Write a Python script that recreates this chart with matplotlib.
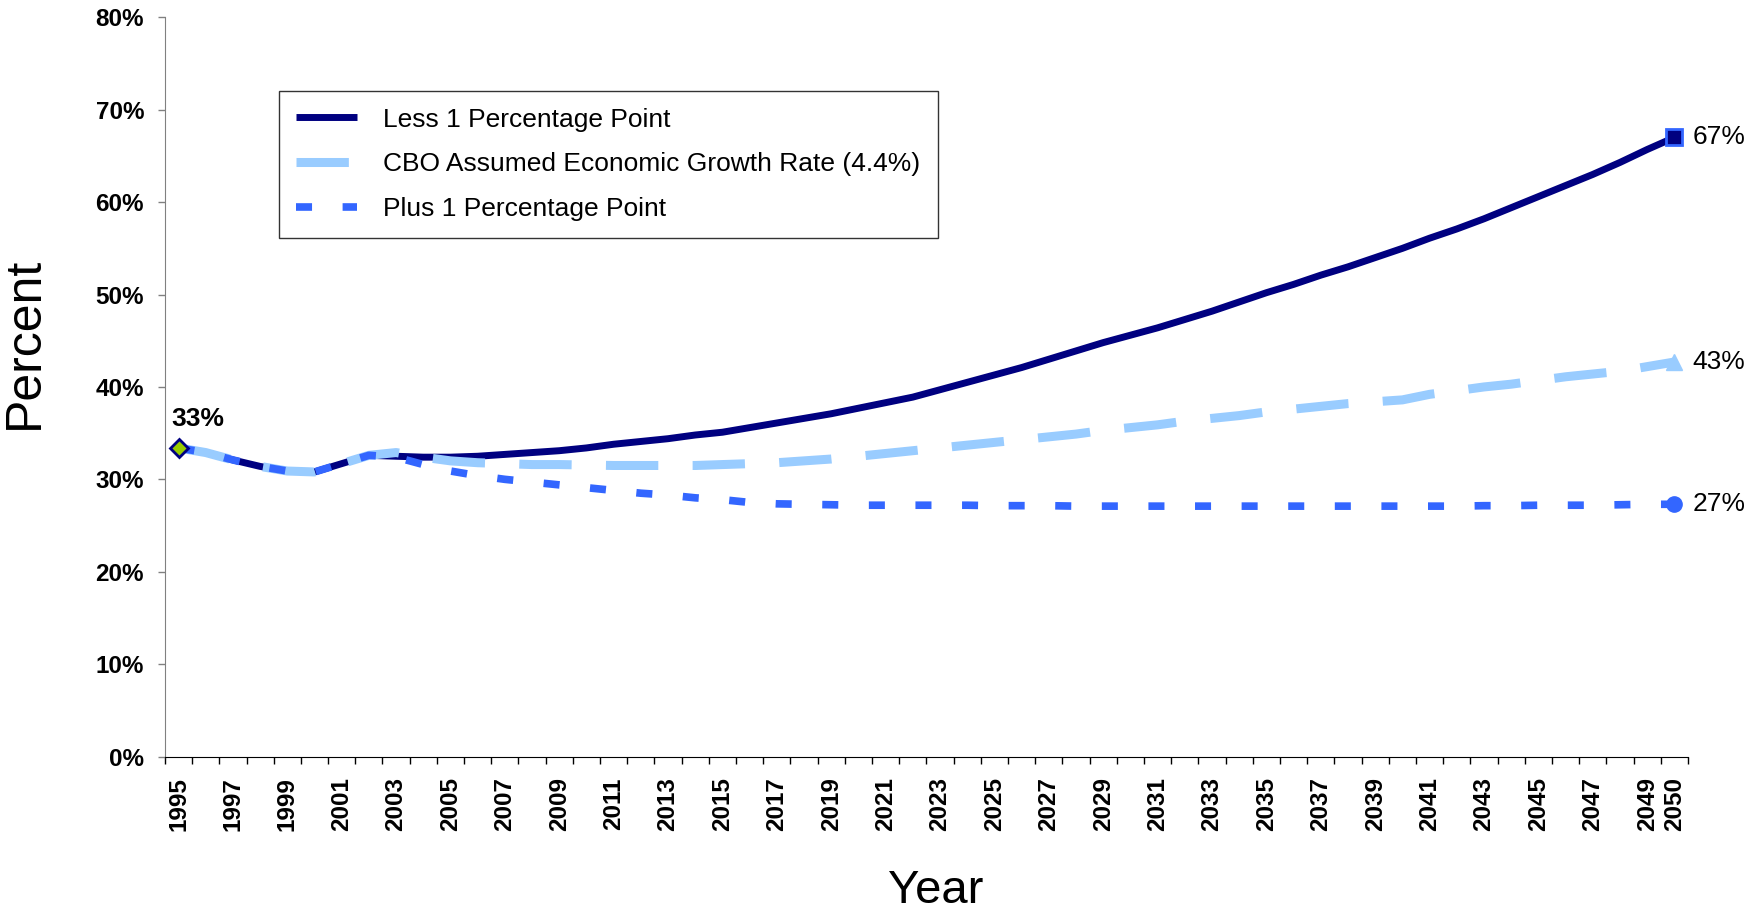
import numpy as np
import matplotlib
matplotlib.use("Agg")
import matplotlib.pyplot as plt
from matplotlib.ticker import FixedLocator, FuncFormatter

plt.rcParams['font.family'] = ['Liberation Sans', 'DejaVu Sans']

# Data
years = list(range(1995, 2051))

less_one = [33.4, 32.9, 32.1, 31.4, 30.9, 30.8, 31.7, 32.6, 32.5, 32.4,
            32.4, 32.5, 32.7, 32.9, 33.1, 33.4, 33.8, 34.1, 34.4, 34.8,
            35.1, 35.6, 36.1, 36.6, 37.1, 37.7, 38.3, 38.9, 39.7, 40.5,
            41.3, 42.1, 43.0, 43.9, 44.8, 45.6, 46.4, 47.3, 48.2, 49.2,
            50.2, 51.1, 52.1, 53.0, 54.0, 55.0, 56.1, 57.1, 58.2, 59.4,
            60.6, 61.8, 63.0, 64.3, 65.7, 67.0]

cbo_rate = [33.4, 32.9, 32.1, 31.4, 30.9, 30.8, 31.7, 32.6, 32.9, 32.4,
            32.0, 31.8, 31.7, 31.6, 31.6, 31.55, 31.5, 31.5, 31.5, 31.5,
            31.6, 31.7, 31.8, 32.0, 32.2, 32.5, 32.8, 33.1, 33.4, 33.7,
            34.0, 34.3, 34.6, 34.9, 35.3, 35.6, 35.9, 36.3, 36.6, 36.9,
            37.3, 37.6, 37.9, 38.2, 38.4, 38.6, 39.2, 39.6, 40.0, 40.3,
            40.7, 41.1, 41.4, 41.7, 42.2, 42.7]

plus_one = [33.4, 32.9, 32.1, 31.4, 30.9, 30.8, 31.7, 32.6, 32.4, 31.6,
            30.9, 30.4, 30.0, 29.7, 29.4, 29.1, 28.8, 28.5, 28.3, 28.0,
            27.8, 27.5, 27.35, 27.3, 27.25, 27.2, 27.2, 27.2, 27.2, 27.2,
            27.15, 27.15, 27.15, 27.1, 27.1, 27.1, 27.1, 27.1, 27.1, 27.1,
            27.1, 27.1, 27.1, 27.1, 27.1, 27.1, 27.1, 27.1, 27.15, 27.15,
            27.2, 27.2, 27.2, 27.25, 27.3, 27.3]

series_labels = ["Less 1 Percentage Point",
                 "CBO Assumed Economic Growth Rate (4.4%)",
                 "Plus 1 Percentage Point"]
end_labels = ["67%", "43%", "27%"]
start_label = "33%"

NAVY = '#000080'
LIGHT = '#99ccff'
BLUE = '#3366ff'

fig = plt.figure(figsize=(17.47, 9.15), dpi=100)
ax = fig.add_subplot(111)
fig.subplots_adjust(left=0.0944, right=0.9662, bottom=0.1732, top=0.981)

x = np.arange(len(years))

ax.plot(x, less_one, color=NAVY, lw=5, solid_capstyle='butt',
        label=series_labels[0], zorder=3)
ax.plot(x, cbo_rate, color=LIGHT, lw=6.5, dashes=(5.8, 3.8),
        dash_capstyle='butt', label=series_labels[1], zorder=4)
ax.plot(x, plus_one, color=BLUE, lw=5.5, dashes=(2.1, 4.0),
        dash_capstyle='butt', label=series_labels[2], zorder=5)

# end / start markers
ax.plot(x[0], less_one[0], marker='D', ms=9, mfc='#99cc00', mec=NAVY,
        mew=2, zorder=6, clip_on=False)
ax.plot(x[-1], less_one[-1], marker='s', ms=11, mfc=NAVY, mec=BLUE,
        mew=2, zorder=6, clip_on=False)
ax.plot(x[-1], cbo_rate[-1], marker='^', ms=12, mfc=LIGHT, mec=LIGHT,
        zorder=6, clip_on=False)
ax.plot(x[-1], plus_one[-1], marker='o', ms=11, mfc=BLUE, mec=BLUE,
        zorder=6, clip_on=False)

ax.annotate(start_label, (x[0], less_one[0]), xytext=(14, 16),
            textcoords='offset points', ha='center', va='baseline',
            fontsize=19, fontweight='bold')
for val, txt in zip([less_one[-1], cbo_rate[-1], plus_one[-1]], end_labels):
    ax.annotate(txt, (x[-1], val), xytext=(13, 0),
                textcoords='offset points', ha='left', va='center',
                fontsize=19)

# axes
ax.set_xlim(-0.5, len(years) - 0.5)
ax.set_ylim(0, 80)
ax.set_yticks(np.arange(0, 81, 10))
ax.yaxis.set_major_formatter(FuncFormatter(lambda v, p: f"{v:.0f}%"))
ax.tick_params(axis='y', direction='out', length=5, width=1,
               color='#808080', pad=10, labelsize=17.5)
for lbl in ax.get_yticklabels():
    lbl.set_fontweight('bold')

label_idx = list(range(0, len(years) - 1, 2)) + [len(years) - 1]
ax.xaxis.set_major_locator(FixedLocator(label_idx))
ax.set_xticklabels([str(years[i]) for i in label_idx], rotation=90,
                   fontsize=17.5, fontweight='bold')
ax.xaxis.set_minor_locator(FixedLocator(np.arange(-0.5, len(years), 1.0)))
ax.tick_params(axis='x', which='major', length=0, pad=15)
ax.tick_params(axis='x', which='minor', direction='out', length=5,
               width=1, color='black')

ax.spines['top'].set_visible(False)
ax.spines['right'].set_visible(False)
ax.spines['left'].set_color('#808080')
ax.spines['bottom'].set_color('black')

ax.set_ylabel("Percent", fontsize=36, va='center')
ax.yaxis.set_label_coords(-0.092, 0.56)
ax.set_xlabel("Year", fontsize=34, va='center')
ax.xaxis.set_label_coords(0.506, -0.182)

leg = ax.legend(loc='upper left', bbox_to_anchor=(0.0749, 0.901),
                borderaxespad=0, fontsize=19, frameon=True, fancybox=False,
                edgecolor='black', handlelength=2.3, handletextpad=1.0,
                labelspacing=0.78, borderpad=0.65)
leg.get_frame().set_linewidth(1)

fig.savefig("out.png", dpi=100)
